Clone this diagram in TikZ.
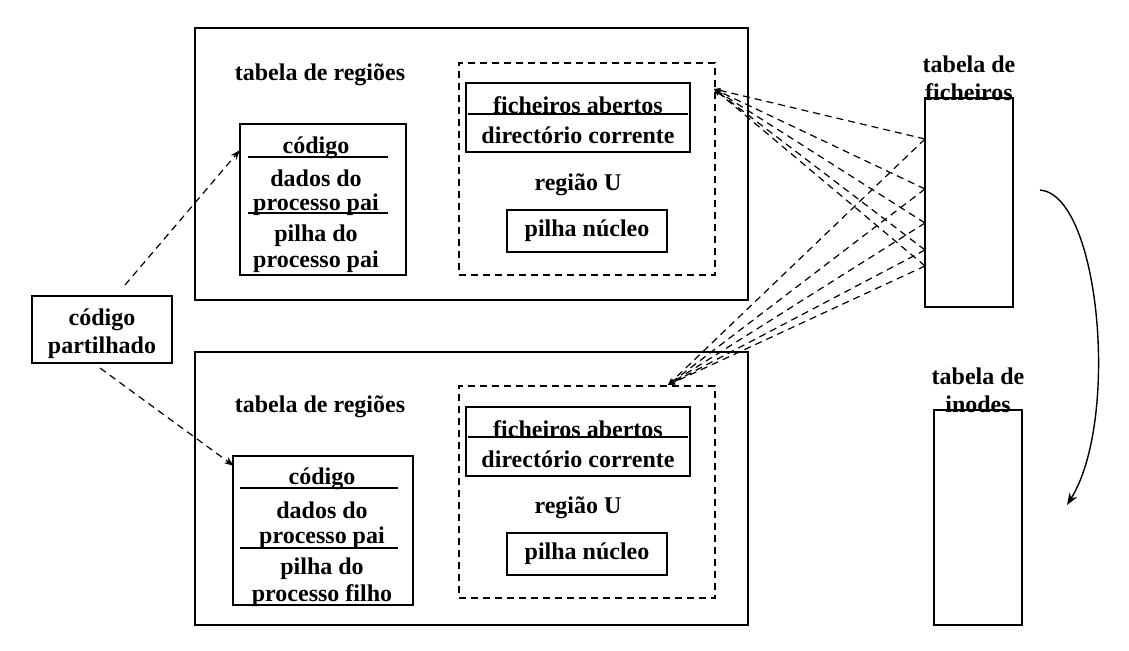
\documentclass[tikz,border=0pt]{standalone}
\usepackage{fontspec}
\setmainfont{Liberation Serif}
\usetikzlibrary{arrows.meta}
\tikzset{
  box/.style={draw, line width=0.8pt, inner sep=0pt},
  ubox/.style={draw, dashed, line width=0.7pt, dash pattern=on 3.5pt off 2.5pt, inner sep=0pt},
  lbl/.style={font=\fontsize{12}{14}\selectfont\bfseries, inner sep=0pt},
  share/.style={dashed, dash pattern=on 3.5pt off 2.5pt, line width=0.6pt, -{Stealth[length=5pt,width=3.5pt]}},
  fan/.style={dashed, dash pattern=on 3.5pt off 2.5pt, line width=0.6pt, -{Stealth[length=3.5pt,width=2.8pt]}}
}
\begin{document}
\begin{tikzpicture}[x=0.5pt, y=-0.5pt]
		\useasboundingbox (0,0) rectangle (1129,650);
		% processo pai
		\node[box, minimum width=276.5pt, minimum height=136pt] (paibox) at (471.5,164) {};
		\node[lbl] (paitab) at (320,75) {tabela de regiões};
		\node[box, minimum width=83pt, minimum height=75.5pt] (paireg) at (323,199.5) {};
		\draw[line width=0.8pt] (248,157) -- (388,157);
		\draw[line width=0.8pt] (248,213) -- (388,213);
		\node[lbl] (paicod) at (316,148) {código};
		\node[lbl] (paidad) at (316,178) {dados do};
		\node[lbl] (paipd) at (316,205) {processo pai};
		\node[lbl] (paipil) at (316,236) {pilha do};
		\node[lbl] (paipp) at (316,262) {processo pai};
		\node[ubox, minimum width=128pt, minimum height=106pt] (paiu) at (587,169) {};
		\node[box, minimum width=112pt, minimum height=34.5pt] (paifich) at (578,117.5) {};
		\draw[line width=0.8pt] (468,114) -- (688,114);
		\node[lbl] (paifa) at (578,105) {ficheiros abertos};
		\node[lbl] (paidir) at (578,135) {directório corrente};
		\node[lbl] (paiuu) at (578,185) {região U};
		\node[box, minimum width=80pt, minimum height=21pt] (paipn) at (587,231) {};
		\node[lbl] at (paipn) {pilha núcleo};
		
		% processo filho
		\node[box, minimum width=276.5pt, minimum height=136.5pt] (filbox) at (471.5,488.5) {};
		\node[lbl] (filtab) at (320,407) {tabela de regiões};
		\node[box, minimum width=90pt, minimum height=74.5pt] (filreg) at (323,530.5) {};
		\draw[line width=0.8pt] (240,488) -- (398,488);
		\draw[line width=0.8pt] (240,548) -- (398,548);
		\node[lbl] (filcod) at (322,479) {código};
		\node[lbl] (fildad) at (322,510) {dados do};
		\node[lbl] (filpd) at (322,538) {processo pai};
		\node[lbl] (filpil) at (322,569) {pilha do};
		\node[lbl] (filpf) at (322,596) {processo filho};
		\node[ubox, minimum width=128pt, minimum height=106pt] (filu) at (587,492) {};
		\node[box, minimum width=112pt, minimum height=34.5pt] (filfich) at (578,441.5) {};
		\draw[line width=0.8pt] (468,437) -- (688,437);
		\node[lbl] (filfa) at (578,429) {ficheiros abertos};
		\node[lbl] (fildir) at (578,459) {directório corrente};
		\node[lbl] (filuu) at (578,508) {região U};
		\node[box, minimum width=80pt, minimum height=21pt] (filpn) at (587,554) {};
		\node[lbl] at (filpn) {pilha núcleo};
		
		% codigo partilhado
		\node[box, minimum width=70pt, minimum height=33.5pt] (cp) at (102,329.5) {};
		\node[lbl, align=center] at (102,334) {código\\partilhado};
		\coordinate (cpt) at (125,285);
		\coordinate (cpb) at (100,368);
		\coordinate (paitip) at (240,150);
		\coordinate (filtip) at (234,466);
		\draw[share] (cpt) -- (paitip);
		\draw[share] (cpb) -- (filtip);
		
		% tabelas
		\node[box, minimum width=44pt, minimum height=104.5pt] (ft) at (969,202.5) {};
		\node[lbl, align=center] (ftl) at (969,78) {tabela de\\ficheiros};
		\node[box, minimum width=44pt, minimum height=107.5pt] (it) at (978,517.5) {};
		\node[lbl, align=center] (itl) at (978,390) {tabela de\\inodes};
		
		\coordinate (f1) at (925,139);
		\coordinate (f2) at (925,189);
		\coordinate (f3) at (925,223);
		\coordinate (f4) at (925,250);
		\coordinate (f5) at (925,266);
		\coordinate (pais) at (714,89);
		\coordinate (fils) at (668,385);
		\draw[fan] (f1) -- (pais);
		\draw[fan] (f2) -- (pais);
		\draw[fan] (f3) -- (pais);
		\draw[fan] (f4) -- (pais);
		\draw[fan] (f5) -- (pais);
		\draw[fan] (f1) -- (fils);
		\draw[fan] (f2) -- (fils);
		\draw[fan] (f3) -- (fils);
		\draw[fan] (f4) -- (fils);
		\draw[fan] (f5) -- (fils);
		
		\coordinate (cs) at (1040,190);
		\coordinate (ce) at (1067,505);
		\draw[line width=0.7pt, -{Stealth[length=6pt,width=4.5pt]}] (cs) .. controls (1100,195) and (1120,420) .. (ce);
		\end{tikzpicture}
\end{document}
